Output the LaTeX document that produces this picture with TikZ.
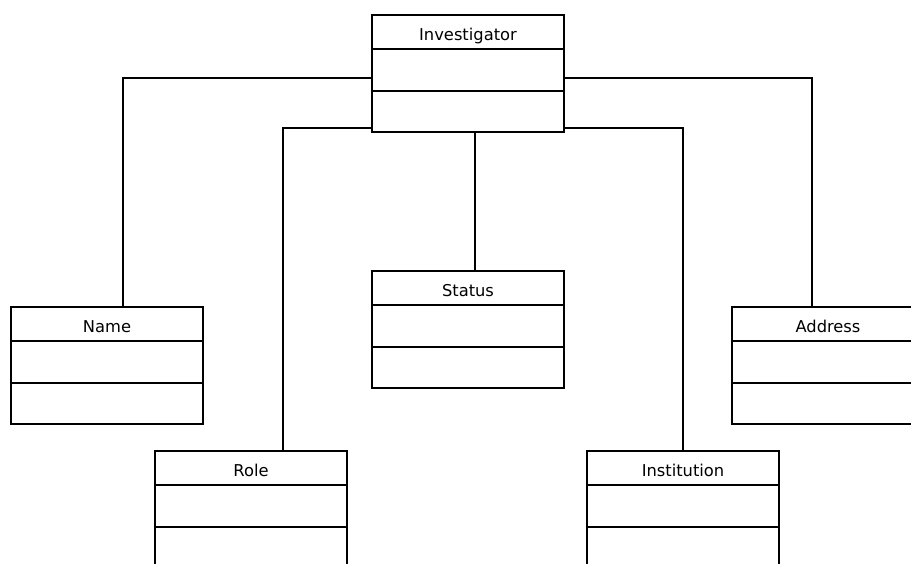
\documentclass[tikz,border=0pt]{standalone}
\usepackage{fontspec}
\setmainfont{DejaVu Sans}
\usetikzlibrary{shapes.multipart}

\newcommand{\UC}[1]{%
  \rule[-7pt]{0pt}{32pt}#1%
  \nodepart{two}\rule{0pt}{40pt}%
  \nodepart{three}\rule{0pt}{39pt}%
}

\begin{document}
\begin{tikzpicture}[
    x=1pt, y=-1pt,
    umlclass/.style={rectangle split, rectangle split parts=3, draw,
        text width=192pt, align=center, inner xsep=0pt, inner ysep=0pt,
        outer sep=0pt, anchor=north west,
        font=\fontsize{16.3}{18}\selectfont},
    line width=1.9pt
]
\clip (0,0) rectangle (911,563);
\node[umlclass] (inv) at (372,15) {\UC{Investigator}};
\node[umlclass] (name) at (11,307) {\UC{Name}};
\node[umlclass] (status) at (372,271) {\UC{Status}};
\node[umlclass] (addr) at (732,307) {\UC{Address}};
\node[umlclass] (role) at (155,451) {\UC{Role}};
\node[umlclass] (inst) at (587,451) {\UC{Institution}};

\draw ([yshift=-63pt]inv.north west) -| ([xshift=16pt]name.north);
\draw ([yshift=4pt]inv.south west) -| ([xshift=32pt]role.north);
\draw ([xshift=7pt]inv.south) -- ([xshift=7pt]status.north);
\draw ([yshift=4pt]inv.south east) -| (inst.north);
\draw ([yshift=-63pt]inv.north east) -| ([xshift=-16pt]addr.north);
\end{tikzpicture}
\end{document}
